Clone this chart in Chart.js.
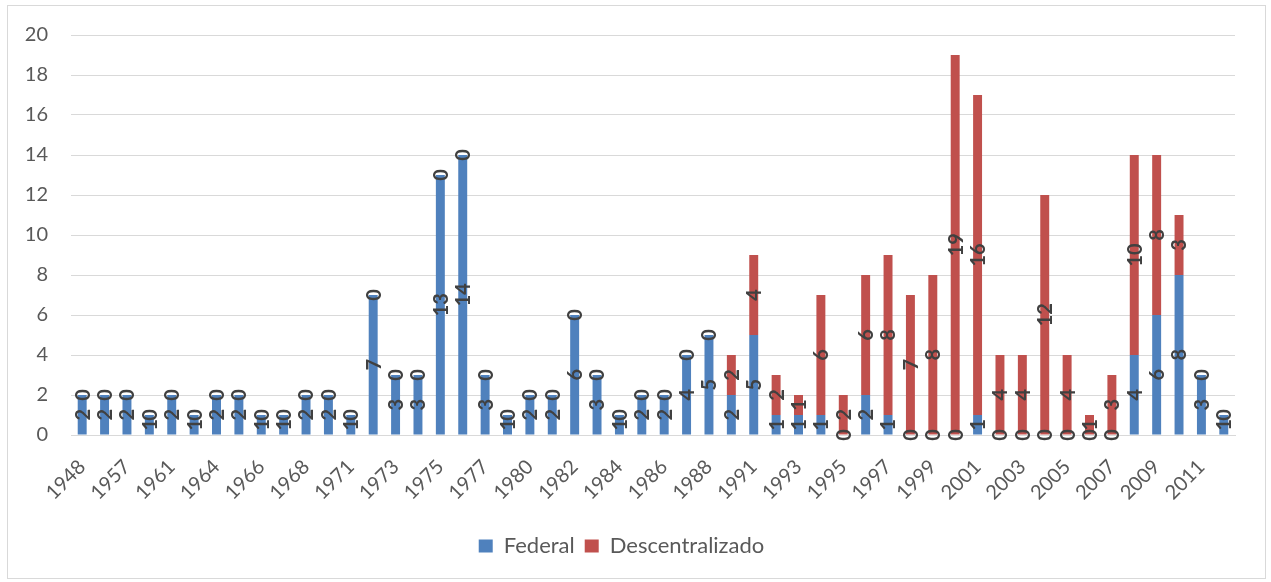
<!DOCTYPE html>
<html>
<head>
<meta charset="utf-8">
<script src="https://cdn.jsdelivr.net/npm/chart.js@4"></script>
<style>
  html, body { margin: 0; padding: 0; background: #fff; }
  #wrap { position: relative; width: 1271px; height: 582px; }
  #frame { position: absolute; left: 7px; top: 5px; width: 1257px; height: 572px; border: 1px solid #d9d9d9; }
  canvas { position: absolute; left: 0; top: 0; }
</style>
</head>
<body>
<div id="wrap">
  <div id="frame"></div>
  <canvas id="chart" width="1271" height="582"></canvas>
</div>
<script>
const years = ['1948','1955','1957','1960','1961','1963','1964','1965','1966','1967',
  '1968','1970','1971','1972','1973','1974','1975','1976','1977','1979',
  '1980','1981','1982','1983','1984','1985','1986','1987','1988','1990',
  '1991','1992','1993','1994','1995','1996','1997','1998','1999','2000',
  '2001','2002','2003','2004','2005','2006','2007','2008','2009','2010',
  '2011','2012'];

const federal = [2,2,2,1,2,1,2,2,1,1,
  2,2,1,7,3,3,13,14,3,1,
  2,2,6,3,1,2,2,4,5,2,
  5,1,1,1,0,2,1,0,0,0,
  1,0,0,0,0,0,0,4,6,8,
  3,1];

const descentralizado = [0,0,0,0,0,0,0,0,0,0,
  0,0,0,0,0,0,0,0,0,0,
  0,0,0,0,0,0,0,0,0,2,
  4,2,1,6,2,6,8,7,8,19,
  16,4,4,12,4,1,3,10,8,3,
  0,0];

const yTicks = [0, 2, 4, 6, 8, 10, 12, 14, 16, 18, 20];

// value of each segment written vertically at its middle
const valueLabels = {
  id: 'valueLabels',
  afterDatasetsDraw(chart) {
    const ctx = chart.ctx;
    ctx.save();
    ctx.font = 'bold 20px Lato';
    ctx.fillStyle = '#404040';
    ctx.textAlign = 'center';
    ctx.textBaseline = 'middle';
    chart.data.datasets.forEach((ds, i) => {
      chart.getDatasetMeta(i).data.forEach((bar, j) => {
        const y = (bar.y + bar.base) / 2;
        ctx.save();
        ctx.translate(bar.x, y);
        ctx.rotate(-Math.PI / 2);
        ctx.fillText(String(ds.data[j]), 0, 1);
        ctx.restore();
      });
    });
    ctx.restore();
  }
};

Chart.defaults.font.family = 'Lato, Calibri, sans-serif';
Chart.defaults.color = '#595959';

new Chart(document.getElementById('chart'), {
  type: 'bar',
  data: {
    labels: years,
    datasets: [
      { label: 'Federal', data: federal, backgroundColor: '#4f81bd',
        categoryPercentage: 1, barPercentage: 0.4 },
      { label: 'Descentralizado', data: descentralizado, backgroundColor: '#c0504d',
        categoryPercentage: 1, barPercentage: 0.4 }
    ]
  },
  options: {
    responsive: false,
    animation: false,
    layout: { padding: { left: 8, right: 36, top: 26, bottom: 15 } },
    scales: {
      x: {
        stacked: true,
        grid: { display: false, drawTicks: false },
        border: { color: '#d9d9d9' },
        afterFit: axis => { axis.height = 90; },
        ticks: {
          autoSkip: false, maxRotation: 45, minRotation: 45, padding: 20,
          font: { size: 20 },
          callback: (v, i) => (i % 2 === 0 ? years[i] : '')
        }
      },
      y: {
        stacked: true,
        min: 0, max: 20,
        afterBuildTicks: axis => { axis.ticks = yTicks.map(v => ({ value: v })); },
        afterFit: axis => { axis.width = 63; },
        grid: { color: '#d9d9d9', drawTicks: false },
        border: { display: false },
        ticks: { padding: 23, font: { size: 20 } }
      }
    },
    plugins: {
      legend: {
        position: 'bottom',
        labels: { boxWidth: 14, boxHeight: 13, padding: 10, font: { size: 22 } }
      },
      tooltip: { enabled: false }
    }
  },
  plugins: [valueLabels]
});
</script>
</body>
</html>
